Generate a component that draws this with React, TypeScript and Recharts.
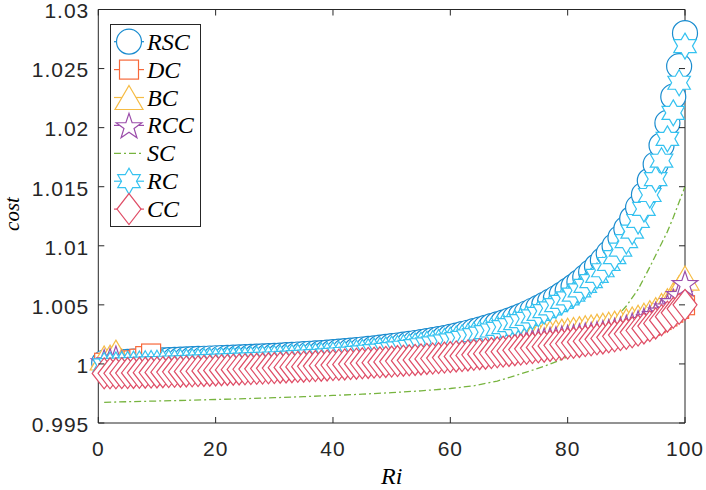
import React from "react";
import { Label, Legend, Line, LineChart, XAxis, YAxis } from "recharts";

// Ri runs 1..100, one marker per step
const RI = Array.from({ length: 100 }, (_, i) => i + 1);

const RSC = [
  1.0001, 1.00012, 1.00014, 1.00016, 1.00018, 1.0002, 1.00022, 1.00024, 1.00026, 1.00028,
  1.0003, 1.00032, 1.00034, 1.00036, 1.00038, 1.0004, 1.00042, 1.00044, 1.00046, 1.00048,
  1.0005, 1.00052, 1.00054, 1.00056, 1.00058, 1.0006, 1.00062, 1.00064, 1.00066, 1.00068,
  1.00071, 1.00074, 1.00077, 1.0008, 1.00083, 1.00086, 1.00089, 1.00092, 1.00096, 1.001,
  1.00104, 1.00108, 1.00112, 1.00117, 1.00122, 1.00127, 1.00132, 1.00138, 1.00144, 1.0015,
  1.00156, 1.00163, 1.0017, 1.00177, 1.00185, 1.00193, 1.00201, 1.0021, 1.00219, 1.00229,
  1.0024, 1.00252, 1.00264, 1.00277, 1.00291, 1.00305, 1.0032, 1.00335, 1.0035, 1.00367,
  1.00385, 1.00405, 1.00427, 1.0045, 1.00474, 1.005, 1.00527, 1.00556, 1.00587, 1.0062,
  1.00655, 1.00693, 1.00734, 1.00778, 1.00826, 1.00878, 1.00935, 1.00998, 1.01068, 1.01145,
  1.0123, 1.01325, 1.01432, 1.01552, 1.0169, 1.0185, 1.0204, 1.02262, 1.0252, 1.028,
];

const DC = [
  1.0001, 1.00012, 1.00015, 1.00018, 1.00022, 1.0003, 1.00044, 1.00066, 1.00088, 0.9995,
  0.99933, 0.99934, 0.99936, 0.99937, 0.99939, 0.9994, 0.99942, 0.99944, 0.99946, 0.99948,
  0.9995, 0.99952, 0.99954, 0.99956, 0.99958, 0.9996, 0.99962, 0.99964, 0.99966, 0.99968,
  0.99971, 0.99973, 0.99975, 0.99978, 0.9998, 0.99983, 0.99985, 0.99988, 0.9999, 0.99993,
  0.99996, 0.99999, 1.00002, 1.00005, 1.00008, 1.00011, 1.00014, 1.00017, 1.0002, 1.00023,
  1.00027, 1.0003, 1.00034, 1.00037, 1.00041, 1.00045, 1.00049, 1.00053, 1.00057, 1.00061,
  1.00066, 1.0007, 1.00075, 1.0008, 1.00085, 1.0009, 1.00095, 1.00101, 1.00107, 1.00113,
  1.00119, 1.00125, 1.00131, 1.00137, 1.00143, 1.00149, 1.00155, 1.00161, 1.00168, 1.00175,
  1.00182, 1.00189, 1.00196, 1.00203, 1.00211, 1.00219, 1.00228, 1.00237, 1.00247, 1.00258,
  1.0027, 1.00285, 1.00302, 1.00322, 1.00345, 1.00372, 1.00402, 1.00434, 1.00466, 1.00497,
];

const BC = [
  1.0005, 1.00058, 1.001, 1.00025, 0.9999, 0.99985, 0.9998, 0.99975, 0.99972, 0.9997,
  0.9996, 0.99961, 0.99963, 0.99964, 0.99966, 0.99967, 0.99969, 0.99971, 0.99973, 0.99975,
  0.99977, 0.99979, 0.99981, 0.99983, 0.99985, 0.99987, 0.99989, 0.99991, 0.99993, 0.99995,
  0.99998, 1.0, 1.00002, 1.00005, 1.00007, 1.0001, 1.00012, 1.00015, 1.00017, 1.0002,
  1.00023, 1.00026, 1.00029, 1.00032, 1.00035, 1.00038, 1.00041, 1.00044, 1.00047, 1.0005,
  1.00055, 1.00059, 1.00064, 1.00068, 1.00073, 1.00078, 1.00083, 1.00089, 1.00095, 1.00101,
  1.00109, 1.00117, 1.00126, 1.00135, 1.00145, 1.00155, 1.00166, 1.00177, 1.00189, 1.002,
  1.0021, 1.0022, 1.0023, 1.0024, 1.00249, 1.00257, 1.00264, 1.00271, 1.00278, 1.00285,
  1.00292, 1.00299, 1.00306, 1.00313, 1.0032, 1.00328, 1.00336, 1.00345, 1.00355, 1.00366,
  1.0038, 1.00395, 1.00412, 1.00434, 1.0046, 1.00495, 1.00535, 1.00585, 1.00645, 1.00727,
];

const RCC = [
  1.0002, 1.0003, 1.0005, 1.0001, 0.9998, 0.99975, 0.9997, 0.99965, 0.99962, 0.9996,
  0.9995, 0.99951, 0.99953, 0.99954, 0.99956, 0.99957, 0.99959, 0.99961, 0.99963, 0.99965,
  0.99967, 0.99969, 0.99971, 0.99973, 0.99975, 0.99977, 0.99979, 0.99981, 0.99983, 0.99985,
  0.99988, 0.9999, 0.99992, 0.99995, 0.99997, 1.0, 1.00002, 1.00005, 1.00007, 1.0001,
  1.00013, 1.00016, 1.00019, 1.00022, 1.00025, 1.00028, 1.00031, 1.00034, 1.00037, 1.0004,
  1.00045, 1.00049, 1.00054, 1.00058, 1.00063, 1.00068, 1.00073, 1.00079, 1.00085, 1.00091,
  1.00098, 1.00105, 1.00112, 1.00119, 1.00126, 1.00133, 1.0014, 1.00147, 1.00154, 1.00161,
  1.00168, 1.00175, 1.00182, 1.00189, 1.00195, 1.00201, 1.00207, 1.00213, 1.00219, 1.00225,
  1.00231, 1.00237, 1.00243, 1.00249, 1.00256, 1.00264, 1.00273, 1.00283, 1.00295, 1.0031,
  1.00328, 1.00348, 1.0037, 1.00394, 1.0042, 1.0045, 1.00485, 1.0053, 1.0059, 1.00683,
];

const RC = [
  0.99988, 0.9999, 0.99992, 0.99994, 0.99996, 0.99998, 1.0, 1.00002, 1.00004, 1.00006,
  1.00008, 1.0001, 1.00012, 1.00014, 1.00016, 1.00018, 1.0002, 1.00022, 1.00024, 1.00026,
  1.00028, 1.0003, 1.00032, 1.00034, 1.00036, 1.00038, 1.0004, 1.00042, 1.00044, 1.00046,
  1.00048, 1.00051, 1.00054, 1.00057, 1.0006, 1.00063, 1.00066, 1.00069, 1.00072, 1.00076,
  1.0008, 1.00084, 1.00088, 1.00093, 1.00098, 1.00103, 1.00108, 1.00113, 1.00119, 1.00125,
  1.00131, 1.00137, 1.00144, 1.00151, 1.00158, 1.00166, 1.00174, 1.00182, 1.00191, 1.002,
  1.0021, 1.00221, 1.00232, 1.00244, 1.00256, 1.00269, 1.00283, 1.00297, 1.00312, 1.00328,
  1.00345, 1.00363, 1.00382, 1.00402, 1.00424, 1.00447, 1.00471, 1.00497, 1.00525, 1.00555,
  1.00587, 1.00622, 1.0066, 1.00701, 1.00745, 1.00793, 1.00846, 1.00904, 1.00968, 1.0104,
  1.0112, 1.0121, 1.01312, 1.0143, 1.01565, 1.0172, 1.01905, 1.02125, 1.0238, 1.0269,
];

const CC = [
  0.9992, 0.99921, 0.99921, 0.99922, 0.99923, 0.99924, 0.99925, 0.99926, 0.99927, 0.99928,
  0.9993, 0.99931, 0.99933, 0.99934, 0.99936, 0.99937, 0.99939, 0.99941, 0.99943, 0.99945,
  0.99947, 0.99949, 0.99951, 0.99953, 0.99955, 0.99957, 0.99959, 0.99961, 0.99963, 0.99965,
  0.99968, 0.9997, 0.99972, 0.99975, 0.99977, 0.9998, 0.99982, 0.99985, 0.99987, 0.9999,
  0.99993, 0.99996, 0.99999, 1.00002, 1.00005, 1.00008, 1.00011, 1.00014, 1.00017, 1.0002,
  1.00024, 1.00027, 1.00031, 1.00034, 1.00038, 1.00042, 1.00046, 1.0005, 1.00054, 1.00058,
  1.00063, 1.00067, 1.00072, 1.00077, 1.00082, 1.00087, 1.00092, 1.00098, 1.00104, 1.0011,
  1.00116, 1.00122, 1.00128, 1.00134, 1.0014, 1.00146, 1.00152, 1.00158, 1.00165, 1.00172,
  1.00179, 1.00186, 1.00193, 1.002, 1.00208, 1.00216, 1.00225, 1.00234, 1.00244, 1.00255,
  1.00268, 1.00283, 1.003, 1.0032, 1.00343, 1.0037, 1.004, 1.00433, 1.00466, 1.005,
];

// SC is a plain dash-dot line, so it has its own coarser sampling
const SC_RI = [1, 5, 10, 15, 20, 25, 30, 35, 40, 45, 50, 55, 60, 64, 68, 71, 74, 77, 80, 82, 84, 86, 88, 90, 92, 94, 96, 97, 98, 99, 100];
const SC = [
  0.99675, 0.9968, 0.99686, 0.99692, 0.99699, 0.99706, 0.99714, 0.99723, 0.99733, 0.99744,
  0.99757, 0.99772, 0.99792, 0.99815, 0.99855, 0.999, 0.99947, 0.99998, 1.0006, 1.0012,
  1.002, 1.0029, 1.0038, 1.0049, 1.0063, 1.0082, 1.0102, 1.0112, 1.0124, 1.0137, 1.015,
];

const X_TICKS = [0, 20, 40, 60, 80, 100];
const Y_TICKS = [0.995, 1, 1.005, 1.01, 1.015, 1.02, 1.025, 1.03];

const SERIES = [
  { name: "RSC", values: RSC, color: "#1A8CCF", marker: "circle" },
  { name: "DC", values: DC, color: "#F7683A", marker: "square" },
  { name: "BC", values: BC, color: "#F6BC45", marker: "triangle" },
  { name: "RCC", values: RCC, color: "#9B4DAA", marker: "pentagram" },
  { name: "SC", values: SC, color: "#77B43F", marker: "none" },
  { name: "RC", values: RC, color: "#35C2F0", marker: "hexagram" },
  { name: "CC", values: CC, color: "#DF4D66", marker: "diamond" },
];

const AXIS = "#262626";
const SANS = "'Liberation Sans', Arial, sans-serif";
const SERIF = "'Liberation Serif', 'Times New Roman', serif";
const SC_DASH = "7 3 2 3";

function starPath(cx: number, cy: number, points: number, outer: number, inner: number) {
  const pts: string[] = [];
  for (let k = 0; k < points * 2; k++) {
    const r = k % 2 === 0 ? outer : inner;
    const a = -Math.PI / 2 + (k * Math.PI) / points;
    pts.push(`${(cx + r * Math.cos(a)).toFixed(2)},${(cy + r * Math.sin(a)).toFixed(2)}`);
  }
  return `M${pts.join("L")}Z`;
}

function Marker({ kind, cx, cy, color }: { kind: string; cx: number; cy: number; color: string }) {
  const common = { fill: "#fff", stroke: color, strokeWidth: 1.2 };
  switch (kind) {
    case "circle":
      return <circle cx={cx} cy={cy} r={12.5} {...common} />;
    case "square":
      return <rect x={cx - 9.5} y={cy - 9.5} width={19} height={19} {...common} />;
    case "triangle":
      return <path d={`M${cx},${cy - 12}L${cx + 14},${cy + 12}L${cx - 14},${cy + 12}Z`} {...common} />;
    case "pentagram":
      return <path d={starPath(cx, cy + 1.5, 5, 13.5, 5.3)} {...common} />;
    case "hexagram":
      return <path d={starPath(cx, cy, 6, 13, 7.5)} {...common} />;
    case "diamond":
      return <path d={`M${cx},${cy - 15.5}L${cx + 12},${cy}L${cx},${cy + 15.5}L${cx - 12},${cy}Z`} {...common} />;
    default:
      return null;
  }
}

const XTick = ({ x, y, payload }: any) => (
  <g>
    <line x1={x} x2={x} y1={y} y2={y - 6} stroke={AXIS} strokeWidth={1} />
    <text x={x} y={y + 32.5} textAnchor="middle" fontFamily={SANS} fontSize={21} letterSpacing={1} fill="#262626">
      {payload.value}
    </text>
  </g>
);

const XTopTick = ({ x, y }: any) => <line x1={x} x2={x} y1={y} y2={y + 6} stroke={AXIS} strokeWidth={1} />;

const YTick = ({ x, y, payload }: any) => (
  <g>
    <line x1={x} x2={x + 6} y1={y} y2={y} stroke={AXIS} strokeWidth={1} />
    <text x={x - 9} y={y} dy="0.42em" textAnchor="end" fontFamily={SANS} fontSize={21} letterSpacing={1} fill="#262626">
      {String(payload.value)}
    </text>
  </g>
);

const YRightTick = ({ x, y }: any) => <line x1={x} x2={x - 6} y1={y} y2={y} stroke={AXIS} strokeWidth={1} />;

function LegendBox() {
  return (
    <svg width={91} height={203} style={{ display: "block" }}>
      <rect x={0.5} y={0.5} width={90} height={202} fill="#fff" stroke={AXIS} strokeWidth={1} />
      {SERIES.map((s, i) => {
        const cy = 17.7 + i * 27.9;
        return (
          <g key={s.name}>
            <line
              x1={4}
              x2={34}
              y1={cy}
              y2={cy}
              stroke={s.color}
              strokeWidth={s.marker === "none" ? 1.3 : 1.2}
              strokeDasharray={s.marker === "none" ? SC_DASH : undefined}
            />
            <Marker kind={s.marker} cx={19} cy={cy} color={s.color} />
            <text x={37} y={cy + 8} fontFamily={SERIF} fontStyle="italic" fontSize={24} fill="#000">
              {s.name}
            </text>
          </g>
        );
      })}
    </svg>
  );
}

const axisShared = {
  type: "number" as const,
  interval: 0 as const,
  tickSize: 0,
  tickMargin: 0,
  tickLine: false,
  axisLine: { stroke: AXIS, strokeWidth: 1 },
  zIndex: 300,
};

export default function App() {
  return (
    <div style={{ position: "absolute", left: 0, top: 0, width: 706, height: 490, background: "#fff" }}>
      <LineChart width={706} height={490} margin={{ top: 8.5, right: 20, bottom: 66, left: 97.3 }}>
        <XAxis {...axisShared} xAxisId="bottom" dataKey="ri" domain={[0, 100]} ticks={X_TICKS} height={1} tick={<XTick />}>
          <Label
            content={() => (
              <text x={391.7} y={484} textAnchor="middle" fontFamily={SERIF} fontStyle="italic" fontSize={24} fill="#000">
                Ri
              </text>
            )}
          />
        </XAxis>
        <XAxis
          {...axisShared}
          xAxisId="top"
          orientation="top"
          dataKey="ri"
          domain={[0, 100]}
          ticks={X_TICKS}
          height={1}
          tick={<XTopTick />}
        />
        <YAxis {...axisShared} yAxisId="left" domain={[0.995, 1.03]} ticks={Y_TICKS} width={1} tick={<YTick />}>
          <Label
            content={() => (
              <text
                x={19}
                y={214}
                transform="rotate(-90 19 214)"
                textAnchor="middle"
                fontFamily={SERIF}
                fontStyle="italic"
                fontSize={21}
                fill="#000"
              >
                cost
              </text>
            )}
          />
        </YAxis>
        <YAxis
          {...axisShared}
          yAxisId="right"
          orientation="right"
          domain={[0.995, 1.03]}
          ticks={Y_TICKS}
          width={1}
          tick={<YRightTick />}
        />
        {/* invisible carrier so the top / right axes get a series */}
        <Line
          xAxisId="top"
          yAxisId="right"
          data={SC_RI.map((ri, i) => ({ ri, v: SC[i] }))}
          dataKey="v"
          stroke="none"
          dot={false}
          activeDot={false}
          legendType="none"
          isAnimationActive={false}
        />
        {SERIES.map((s) =>
          s.marker === "none" ? (
            <Line
              key={s.name}
              xAxisId="bottom"
              yAxisId="left"
              data={SC_RI.map((ri, i) => ({ ri, v: s.values[i] }))}
              dataKey="v"
              type="linear"
              stroke={s.color}
              strokeWidth={1.3}
              strokeDasharray={SC_DASH}
              dot={false}
              activeDot={false}
              isAnimationActive={false}
              zIndex={400}
            />
          ) : (
            <Line
              key={s.name}
              xAxisId="bottom"
              yAxisId="left"
              data={RI.map((ri, i) => ({ ri, v: s.values[i] }))}
              dataKey="v"
              type="linear"
              stroke={s.color}
              strokeWidth={1}
              activeDot={false}
              isAnimationActive={false}
              zIndex={400}
              dot={(p: any) =>
                p.cx == null || p.cy == null ? (
                  <g key={`${s.name}-${p.index}`} />
                ) : (
                  <Marker key={`${s.name}-${p.index}`} kind={s.marker} cx={p.cx} cy={p.cy} color={s.color} />
                )
              }
            />
          )
        )}
        <Legend
          layout="vertical"
          align="center"
          verticalAlign="middle"
          wrapperStyle={{ left: 110, top: 24, width: 91, height: 203 }}
          content={() => <LegendBox />}
        />
      </LineChart>
    </div>
  );
}
